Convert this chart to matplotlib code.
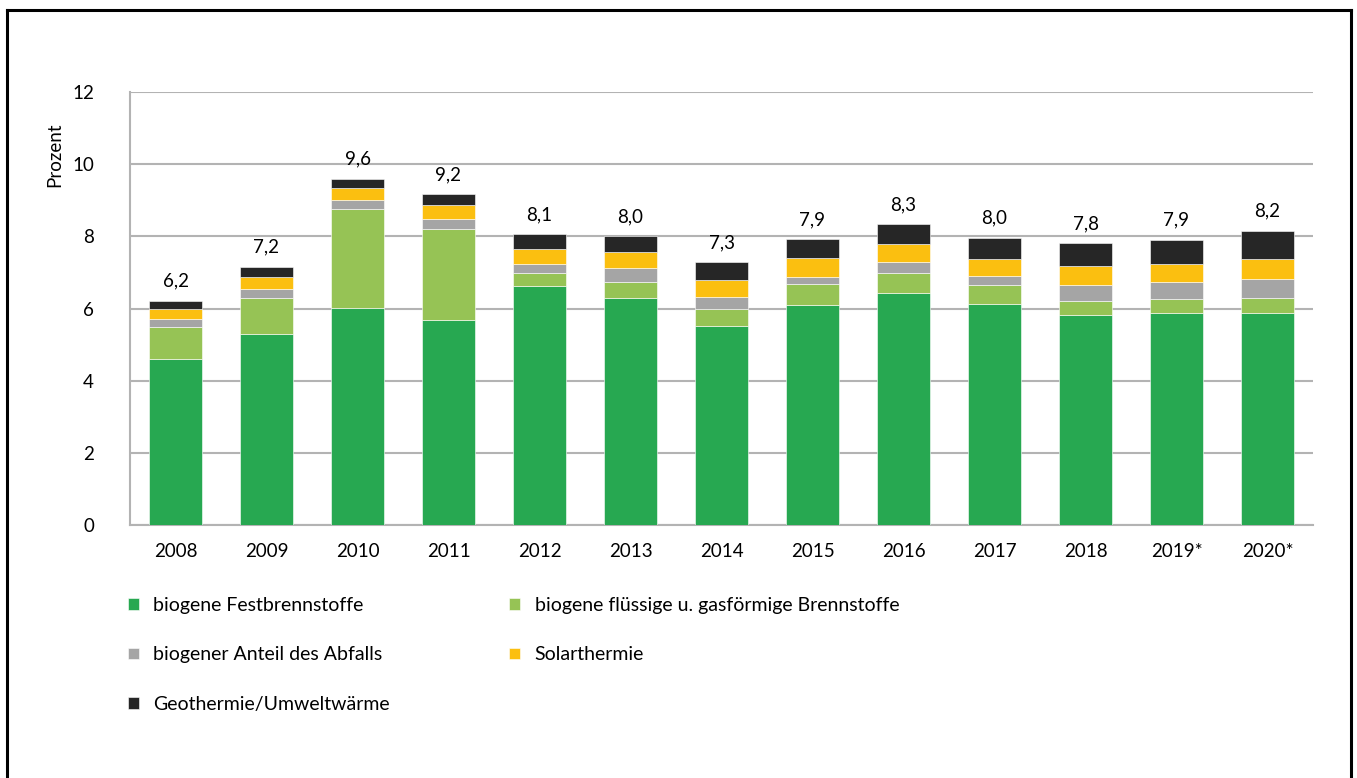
import numpy as np
import matplotlib
matplotlib.use("Agg")
import matplotlib.pyplot as plt
from matplotlib.lines import Line2D

plt.rcParams['font.family'] = ['Lato', 'DejaVu Sans']

jahre = ['2008', '2009', '2010', '2011', '2012', '2013', '2014',
         '2015', '2016', '2017', '2018', '2019*', '2020*']

# Anteile in Prozent je Energietraeger
fest = [4.61, 5.30, 6.02, 5.69, 6.62, 6.30, 5.52, 6.11, 6.44, 6.13, 5.83, 5.88, 5.88]
fluessig = [0.87, 0.98, 2.73, 2.52, 0.35, 0.43, 0.47, 0.58, 0.53, 0.51, 0.39, 0.39, 0.42]
abfall = [0.24, 0.27, 0.27, 0.26, 0.27, 0.40, 0.33, 0.19, 0.33, 0.27, 0.44, 0.47, 0.52]
solar = [0.26, 0.33, 0.32, 0.41, 0.42, 0.44, 0.47, 0.52, 0.49, 0.46, 0.52, 0.49, 0.55]
geo = [0.23, 0.28, 0.25, 0.29, 0.40, 0.43, 0.49, 0.52, 0.55, 0.59, 0.63, 0.67, 0.79]

reihen = [
    (fest, '#27a851', 'biogene Festbrennstoffe'),
    (fluessig, '#96c355', 'biogene flüssige u. gasförmige Brennstoffe'),
    (abfall, '#a5a5a5', 'biogener Anteil des Abfalls'),
    (solar, '#fbbf10', 'Solarthermie'),
    (geo, '#262626', 'Geothermie/Umweltwärme'),
]

W, H = 1357, 778
fs = 13.5
fig = plt.figure(figsize=(W / 100, H / 100), dpi=100, facecolor='white')
ax = fig.add_axes([130 / W, 1 - 525 / H, (1313 - 130) / W, (525 - 92) / H])

x = np.arange(len(jahre))
unten = np.zeros(len(jahre))
handles = {}
for werte, farbe, name in reihen:
    b = ax.bar(x, werte, 0.59, bottom=unten, color=farbe,
               edgecolor='white', linewidth=0.4, label=name, zorder=3)
    handles[name] = b
    unten += np.array(werte)

for xi, summe in zip(x, unten):
    ax.annotate(f'{summe:.1f}'.replace('.', ','), (xi, summe),
                xytext=(0, 8), textcoords='offset points',
                ha='center', va='bottom', fontsize=fs)

ax.set_xlim(-0.5, len(jahre) - 0.5)
ax.set_ylim(0, 12)
ax.set_yticks(range(0, 13, 2))
ax.set_xticks(x)
ax.set_xticklabels(jahre)
ax.tick_params(length=0, labelsize=fs)
ax.tick_params(axis='y', pad=26)
ax.tick_params(axis='x', pad=13)
ax.grid(axis='y', color='#b3b3b3', linewidth=1.5, zorder=0)
for s in ['top', 'right']:
    ax.spines[s].set_visible(False)
for s in ['left', 'bottom']:
    ax.spines[s].set_color('#b3b3b3')
    ax.spines[s].set_linewidth(1.5)

fig.text(55 / W, 1 - 155 / H, 'Prozent', rotation=90, ha='center', va='center',
         fontsize=fs)

reihenfolge = ['biogene Festbrennstoffe', 'biogener Anteil des Abfalls',
               'Geothermie/Umweltwärme',
               'biogene flüssige u. gasförmige Brennstoffe', 'Solarthermie']
fig.legend([handles[n] for n in reihenfolge], reihenfolge, ncol=2,
           loc='upper left', bbox_to_anchor=(128 / W, 1 - 597 / H),
           frameon=False, fontsize=14, handlelength=0.55, handleheight=0.55,
           handletextpad=0.75, labelspacing=1.67, columnspacing=6.15,
           borderpad=0, borderaxespad=0)

# Rahmen um die Grafik (unten offen)
rx0, rx1, ry0 = 7 / W, 1351 / W, 1 - 10 / H
for xs, ys in [([rx0, rx0], [0, ry0]), ([rx0, rx1], [ry0, ry0]), ([rx1, rx1], [ry0, 0])]:
    fig.add_artist(Line2D(xs, ys, color='black', linewidth=2.2,
                          transform=fig.transFigure))

fig.savefig('out.png', dpi=100, facecolor='white')
